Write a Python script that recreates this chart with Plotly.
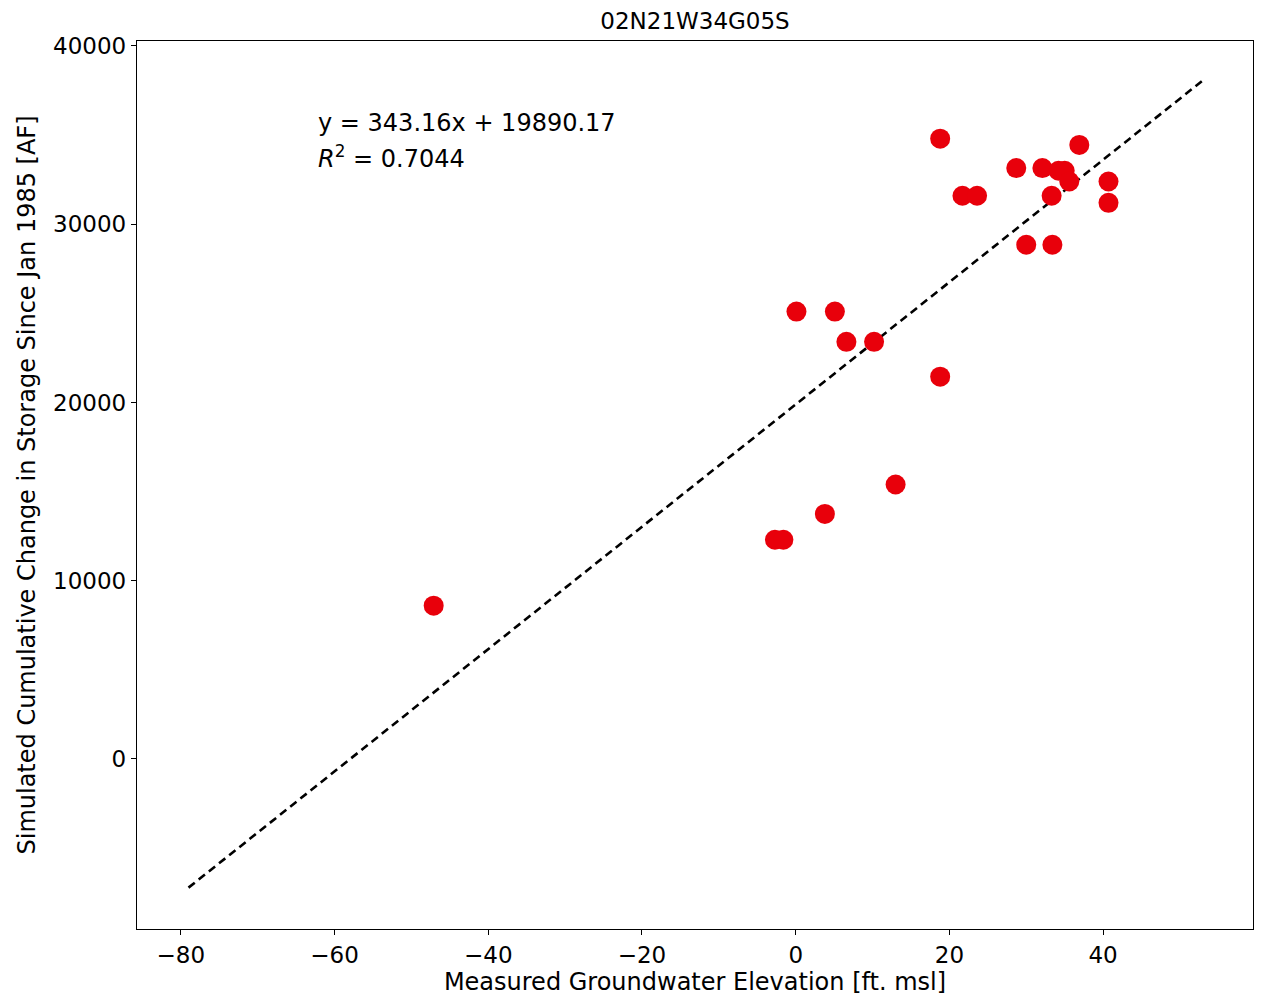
import plotly.graph_objects as go

measured_elev = [-47.1, -2.7, -1.6, 3.8, 13.0, 0.1, 5.1, 6.6, 10.2, 18.8,
                 18.8, 21.7, 23.6, 28.7, 30.0, 32.1, 33.4, 33.3, 34.2, 35.0,
                 35.6, 36.9, 40.7, 40.7]
sim_storage = [8600, 12300, 12300, 13750, 15400, 25100, 25100, 23400, 23400, 21450,
               34800, 31600, 31600, 33150, 28850, 33150, 28850, 31600, 33000, 33000,
               32400, 34450, 32400, 31200]

slope = 343.16
intercept = 19890.17
r2 = 0.7044
fit_x = [-79.0, 53.0]
fit_y = [slope * v + intercept for v in fit_x]

x_ticks = [-80, -60, -40, -20, 0, 20, 40]
y_ticks = [0, 10000, 20000, 30000, 40000]

font = "DejaVu Sans, Liberation Sans, sans-serif"

# page body has an 8px margin, so the figure is 8px smaller and offsets shifted
W, H = 1254, 996
L, R, T, B = 129, 9, 33, 75

fig = go.Figure()
fig.add_trace(go.Scatter(x=fit_x, y=fit_y, mode="lines",
                         line=dict(color="black", width=2.6, dash="8px,5px"),
                         showlegend=False))
fig.add_trace(go.Scatter(x=measured_elev, y=sim_storage, mode="markers",
                         marker=dict(color="#e8000b", size=20, line=dict(width=0)),
                         showlegend=False))

fig.add_annotation(x=-62.4, y=35680, xref="x", yref="y", text=f"y = {slope:.2f}x + {intercept:.2f}",
                   showarrow=False, xanchor="left", yanchor="middle",
                   font=dict(family=font, size=24, color="black"))
fig.add_annotation(x=-62.4, y=33780, xref="x", yref="y", text=f"<i>R</i><sup>2</sup> = {r2:.4f}",
                   showarrow=False, xanchor="left", yanchor="middle",
                   font=dict(family=font, size=24, color="black"))

axis_common = dict(showgrid=False, zeroline=False, showline=True, linecolor="black",
                   linewidth=1.3, mirror=True, ticks="outside", ticklen=5, tickwidth=1.2,
                   tickcolor="black", automargin=False,
                   tickfont=dict(family=font, size=23, color="black"))

fig.update_xaxes(range=[-85.7, 59.5], tickvals=x_ticks,
                 ticktext=[str(v).replace("-", "\u2212") for v in x_ticks],
                 title=dict(text="Measured Groundwater Elevation [ft. msl]",
                            font=dict(family=font, size=24, color="black"), standoff=2),
                 **axis_common)
fig.update_yaxes(range=[-9540, 40280], tickvals=y_ticks,
                 ticktext=[str(v) for v in y_ticks],
                 title=dict(text="Simulated Cumulative Change in Storage Since Jan 1985 [AF]",
                            font=dict(family=font, size=24, color="black"), standoff=10),
                 **axis_common)

fig.update_layout(
    width=W, height=H,
    margin=dict(l=L, r=R, t=T, b=B, autoexpand=False),
    paper_bgcolor="white", plot_bgcolor="white",
    title=dict(text="02N21W34G05S", x=(L + (W - R)) / 2 / W, xanchor="center",
               y=1 - 13 / H, yanchor="middle",
               font=dict(family=font, size=23, color="black")),
)

fig.write_html("out.html")
